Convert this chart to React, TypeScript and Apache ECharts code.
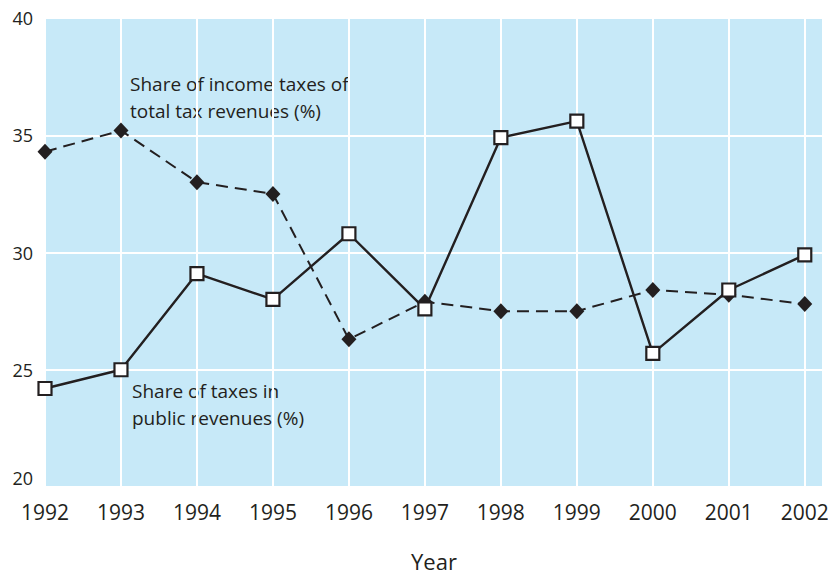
import React, { useEffect, useRef } from "react";
import * as echarts from "echarts";

const years = [1992, 1993, 1994, 1995, 1996, 1997, 1998, 1999, 2000, 2001, 2002];
const incomeTaxShare = [34.3, 35.2, 33.0, 32.5, 26.3, 27.9, 27.5, 27.5, 28.4, 28.2, 27.8];
const taxesInPublicRevenues = [24.2, 25.0, 29.1, 28.0, 30.8, 27.6, 34.9, 35.6, 25.7, 28.4, 29.9];
const incomeLabel = "Share of income taxes of\ntotal tax revenues (%)";
const publicLabel = "Share of taxes in\npublic revenues (%)";
const xName = "Year";

const FONT = "'Open Sans', 'Noto Sans', sans-serif";
const INK = "#231f20";

export default function App() {
  const ref = useRef<HTMLDivElement>(null);
  useEffect(() => {
    if (!ref.current) return;
    const chart = echarts.init(ref.current, null, { renderer: "svg" });
    chart.setOption({
      animation: false,
      grid: {
        left: 45,
        top: 18,
        right: 5,
        bottom: 89,
        show: true,
        backgroundColor: "#c7e9f8",
        borderWidth: 0,
        containLabel: false,
        outerBoundsMode: "none",
      },
      xAxis: {
        type: "value",
        min: 1992,
        max: 2002.24,
        interval: 1,
        name: xName,
        nameLocation: "middle",
        nameGap: 63,
        nameTextStyle: { fontFamily: FONT, fontSize: 22, lineHeight: 22, color: INK },
        axisLine: { show: false },
        axisTick: { show: false },
        axisLabel: {
          margin: 14,
          fontFamily: FONT,
          fontSize: 21,
          color: INK,
          showMaxLabel: false,
          formatter: (v: number) => (Number.isInteger(v) ? String(v) : ""),
        },
        splitLine: { show: true, lineStyle: { color: "#ffffff", width: 2 } },
      },
      yAxis: {
        type: "value",
        min: 20,
        max: 40,
        interval: 5,
        axisLine: { show: false },
        axisTick: { show: false },
        axisLabel: {
          margin: 12,
          fontFamily: FONT,
          fontSize: 18,
          color: INK,
          verticalAlignMinLabel: "bottom",
        },
        splitLine: { show: true, lineStyle: { color: "#ffffff", width: 2 } },
      },
      series: [
        {
          type: "line",
          data: years.map((y, i) => [y, incomeTaxShare[i]]),
          symbol: "diamond",
          symbolSize: [15, 16],
          itemStyle: { color: INK, borderWidth: 0 },
          lineStyle: { color: INK, width: 2, type: [12, 7] },
          z: 2,
        },
        {
          type: "line",
          data: years.map((y, i) => [y, taxesInPublicRevenues[i]]),
          symbol: "rect",
          symbolSize: 13,
          itemStyle: { color: "#ffffff", borderColor: INK, borderWidth: 2.2 },
          lineStyle: { color: INK, width: 2.4, type: "solid" },
          z: 3,
        },
      ],
      graphic: [
        {
          type: "text",
          left: 130,
          top: 70,
          style: {
            text: incomeLabel,
            fontFamily: FONT,
            fontSize: 19,
            lineHeight: 27,
            fill: INK,
          },
        },
        {
          type: "text",
          left: 132,
          top: 377,
          style: {
            text: publicLabel,
            fontFamily: FONT,
            fontSize: 19,
            lineHeight: 27,
            fill: INK,
          },
        },
      ],
    });
    return () => chart.dispose();
  }, []);
  return (
    <div
      ref={ref}
      style={{ position: "absolute", left: 0, top: 0, width: 828, height: 576 }}
    />
  );
}
